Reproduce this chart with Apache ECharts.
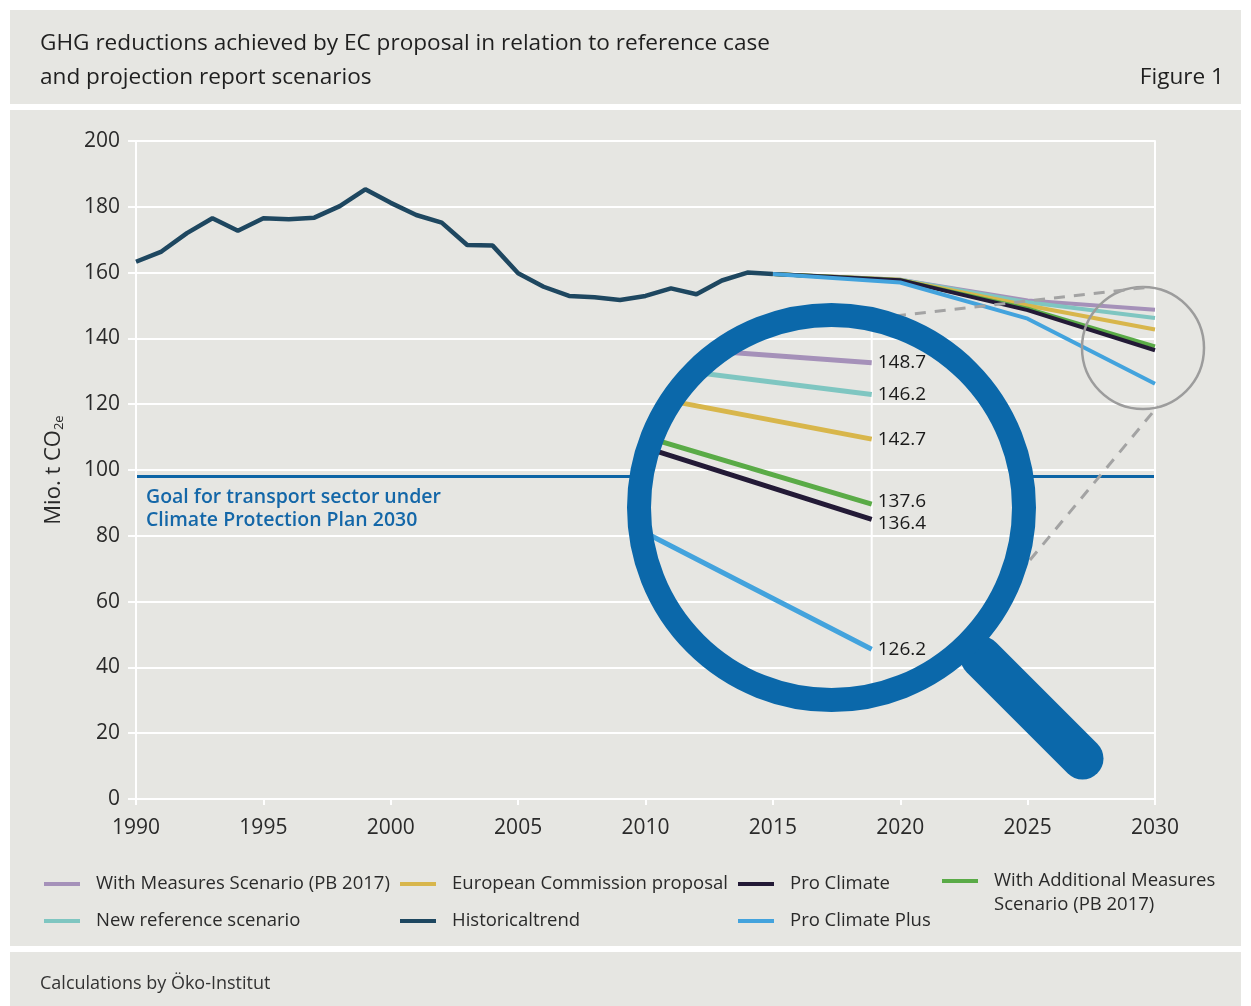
<!DOCTYPE html>
<html><head><meta charset="utf-8">
<script src="https://cdn.jsdelivr.net/npm/echarts@6/dist/echarts.min.js"></script>
<style>html,body{margin:0;padding:0;background:#fff}#c{width:1251px;height:1006px}</style>
</head><body><div id="c"></div>
<script>
// ---------- DATA ----------
const histYears = [1990,1991,1992,1993,1994,1995,1996,1997,1998,1999,2000,2001,2002,2003,2004,2005,2006,2007,2008,2009,2010,2011,2012,2013,2014,2015];
const histValues = [163.3,166.4,172.0,176.5,172.7,176.5,176.2,176.7,180.2,185.3,181.2,177.5,175.2,168.4,168.2,159.8,155.7,152.9,152.5,151.7,152.9,155.2,153.4,157.6,160.0,159.6];
const scenarioYears = [2015,2020,2025,2030];
const withMeasures   = [159.6,157.8,151.5,148.7];
const newReference   = [159.6,157.8,151.0,146.2];
const ecProposal     = [159.6,157.8,150.0,142.7];
const withAdditional = [159.6,157.7,149.0,137.6];
const proClimate     = [159.6,157.7,148.6,136.4];
const proClimatePlus = [159.6,157.0,146.0,126.2];
const goalValue = 98;
const goalYears = [1990,2030];
const yMin = 0, yMax = 200, yStep = 20;
const xMin = 1990, xMax = 2030, xStep = 5;
const zoomXRange = [2027, 2030];
const zoomYRange = [120, 155];

// ---------- STYLE ----------
const BG = '#e6e6e2';
const FONT = '"Open Sans", Roboto, sans-serif';
const TXT = '#2a2a2a';
const C = {
  wm:'#a591b9', ref:'#7fc6c1', ec:'#d8b64b', wam:'#5aab47', pc:'#231a36', pcp:'#43a3dd', hist:'#1e4760', goal:'#0c64a5', ring:'#0b68aa'
};
const NAMES = {
  wm:'With Measures Scenario (PB 2017)', ref:'New reference scenario', ec:'European Commission proposal',
  wam:'With Additional Measures\nScenario (PB 2017)', pc:'Pro Climate', pcp:'Pro Climate Plus', hist:'Historicaltrend'
};
const scenarios = [
  {key:'wm', values:withMeasures, dy:0},
  {key:'ref', values:newReference, dy:0},
  {key:'ec', values:ecProposal, dy:0},
  {key:'wam', values:withAdditional, dy:-2},
  {key:'pc', values:proClimate, dy:4},
  {key:'pcp', values:proClimatePlus, dy:0}
];
const LENS = {cx:831.5, cy:507.5};

const chart = echarts.init(document.getElementById('c'), null, {renderer:'canvas'});

function pairs(xs, ys){ return xs.map((x,i)=>[x, ys[i]]); }

const series = [];
// goal line
series.push({type:'line', name:'goal', xAxisIndex:0, yAxisIndex:0, z:1, data:pairs(goalYears,[goalValue,goalValue]),
  showSymbol:false, symbol:'none', lineStyle:{color:C.goal, width:3}, silent:true, animation:false});
// lens interior fill (covers goal line, under grid lines)
series.push({type:'custom', coordinateSystem:'none', z:2, silent:true, animation:false, data:[[0]],
  renderItem:()=>({type:'circle', shape:{cx:LENS.cx, cy:LENS.cy, r:195}, style:{fill:BG}})});
// scenario lines
scenarios.forEach(s=>{
  series.push({type:'line', name:NAMES[s.key], xAxisIndex:0, yAxisIndex:0, z:4, data:pairs(scenarioYears, s.values),
    showSymbol:false, symbol:'none', lineStyle:{color:C[s.key], width:4}, itemStyle:{color:C[s.key]}, animation:false});
});
series.push({type:'line', name:NAMES.hist, xAxisIndex:0, yAxisIndex:0, z:5, data:pairs(histYears, histValues),
  showSymbol:false, symbol:'none', lineStyle:{color:C.hist, width:4.5}, itemStyle:{color:C.hist}, animation:false});
// small lens + dashed connectors
series.push({type:'custom', coordinateSystem:'none', z:7, silent:true, animation:false, data:[[0]],
  renderItem:()=>({type:'group', children:[
    {type:'circle', shape:{cx:1143, cy:348, r:61}, style:{fill:'none', stroke:'#9c9c9c', lineWidth:2.5}},
    {type:'line', shape:{x1:895, y1:316, x2:1150, y2:287}, style:{stroke:'#a3a3a3', lineWidth:3, lineDash:[11,9]}},
    {type:'line', shape:{x1:1030, y1:560, x2:1158, y2:406}, style:{stroke:'#a3a3a3', lineWidth:3, lineDash:[11,9]}}
  ]})});
// zoomed content in the lens (own axes)
series.push({type:'custom', coordinateSystem:'cartesian2d', xAxisIndex:1, yAxisIndex:2, z:8, clip:false, silent:true, animation:false,
  data:[[2030, 150]],
  renderItem:(params, api)=>{
    const inner = [];
    const t = api.coord([zoomXRange[1], zoomYRange[1]]);
    const b = api.coord([zoomXRange[1], zoomYRange[0]]);
    inner.push({type:'line', shape:{x1:t[0], y1:t[1], x2:b[0], y2:b[1]}, style:{stroke:'#ffffff', lineWidth:2}});
    const labels = [];
    scenarios.forEach(s=>{
      const pts = scenarioYears.map((y,i)=>api.coord([y, s.values[i]]));
      inner.push({type:'polyline', shape:{points:pts}, style:{stroke:C[s.key], lineWidth:5, fill:'none'}});
      const e = pts[pts.length-1];
      labels.push({type:'text', style:{text:s.values[s.values.length-1].toFixed(1), x:e[0]+6, y:e[1]+s.dy,
        fill:'#1a1a1a', font:'19px '+FONT, verticalAlign:'middle', align:'left'}});
    });
    return {type:'group', children:[
      {type:'group', children:inner, clipPath:{type:'circle', shape:{cx:LENS.cx, cy:LENS.cy, r:185}}},
      ...labels
    ]};
  }});
// ring + handle
series.push({type:'custom', coordinateSystem:'none', z:9, silent:true, animation:false, data:[[0]],
  renderItem:()=>({type:'group', children:[
    {type:'line', shape:{x1:LENS.cx+150, y1:LENS.cy+150, x2:LENS.cx+251, y2:LENS.cy+251}, style:{stroke:C.ring, lineWidth:42, lineCap:'round'}},
    {type:'circle', shape:{cx:LENS.cx, cy:LENS.cy, r:192.5}, style:{fill:'none', stroke:C.ring, lineWidth:24}}
  ]})});

function legendItem(key, left, top, extra){
  return Object.assign({
    data:[NAMES[key]], left:left, top:top, padding:0, icon:'rect', itemWidth:36, itemHeight:4,
    textStyle:{fontFamily:FONT, fontSize:18.5, color:TXT, lineHeight:24, padding:[0,0,0,11]},
    selectedMode:false
  }, extra||{});
}

const option = {
  backgroundColor:'#ffffff',
  animation:false,
  graphic:[
    {type:'rect', z:-10, silent:true, shape:{x:10, y:10, width:1231, height:94}, style:{fill:BG}},
    {type:'rect', z:-10, silent:true, shape:{x:10, y:110, width:1231, height:836}, style:{fill:BG}},
    {type:'rect', z:-10, silent:true, shape:{x:10, y:952, width:1231, height:54}, style:{fill:BG}},
    {type:'text', z:10, silent:true, left:146, top:486, style:{text:'Goal for transport sector under\nClimate Protection Plan 2030',
      fill:'#1467a8', font:'600 19.5px '+FONT, lineHeight:23}}
  ],
  title:[
    {text:'GHG reductions achieved by EC proposal in relation to reference case\nand projection report scenarios', left:40, top:27, padding:0,
      textStyle:{fontFamily:FONT, fontSize:22.6, fontWeight:'normal', color:'#1f1f1f', lineHeight:34}},
    {text:'Figure 1', right:27, top:66, padding:0, textStyle:{fontFamily:FONT, fontSize:22.6, fontWeight:'normal', color:'#1f1f1f'}},
    {text:'Calculations by Öko-Institut', left:40, top:975, padding:0, textStyle:{fontFamily:FONT, fontSize:18, fontWeight:'normal', color:'#333'}}
  ],
  legend:[
    legendItem('wm', 44, 872),
    legendItem('ref', 44, 909),
    legendItem('ec', 400, 872),
    legendItem('hist', 400, 909),
    legendItem('pc', 738, 872),
    legendItem('pcp', 738, 909),
    legendItem('wam', 942, 845, {formatter:n=>' \n'+n})
  ],
  grid:[
    {left:136, top:141, width:1019, height:658},
    {left:577.7, top:282.4, width:294, height:445.9}
  ],
  xAxis:[
    {type:'value', gridIndex:0, min:xMin, max:xMax, interval:xStep,
      axisLine:{show:true, lineStyle:{color:'#ffffff', width:2}},
      axisTick:{show:true, length:6, lineStyle:{color:'#ffffff', width:2}},
      splitLine:{show:false},
      axisLabel:{formatter:v=>String(v), color:TXT, fontFamily:FONT, fontSize:21, margin:19}},
    {type:'value', gridIndex:1, min:zoomXRange[0], max:zoomXRange[1], show:false}
  ],
  yAxis:[
    {type:'value', gridIndex:0, min:yMin, max:yMax, interval:yStep, z:3,
      name:'Mio. t CO{s|2e}', nameLocation:'middle', nameGap:70, nameRotate:90,
      nameTextStyle:{fontFamily:FONT, fontSize:22, color:TXT, rich:{s:{fontFamily:FONT, fontSize:13, color:TXT, padding:[11,0,0,0]}}},
      axisLine:{show:true, lineStyle:{color:'#ffffff', width:2}},
      axisTick:{show:true, length:8, lineStyle:{color:'#ffffff', width:2}},
      splitLine:{show:true, lineStyle:{color:'#ffffff', width:2}},
      axisLabel:{color:TXT, fontFamily:FONT, fontSize:21, margin:16, padding:[3,0,0,0]}},
    {type:'value', gridIndex:0, min:yMin, max:yMax, interval:yStep, position:'right', z:3,
      axisLine:{show:true, lineStyle:{color:'#ffffff', width:2}}, axisTick:{show:false}, axisLabel:{show:false}, splitLine:{show:false}},
    {type:'value', gridIndex:1, min:zoomYRange[0], max:zoomYRange[1], show:false}
  ],
  series:series
};
chart.setOption(option);
</script></body></html>
